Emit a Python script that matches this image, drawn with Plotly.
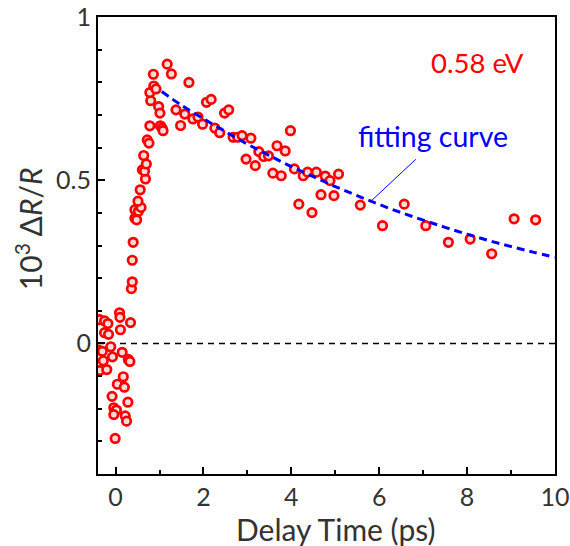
import plotly.graph_objects as go

# ---- data ----
delay_ps = [
    -0.36, -0.25, -0.175, 0.09, 0.10, 0.34, 0.11, -0.25, -0.16, -0.11,
    -0.39, -0.30, -0.07, 0.15, 0.29, 0.325, -0.28, -0.36, -0.20, 0.175,
    0.04, 0.20, -0.08, 0.28, -0.04, 0.02, -0.04, 0.22, 0.25, -0.01,
    0.36, 0.38, 0.38, 0.40, 0.44, 0.48, 0.44, 0.52, 0.58, 0.51,
    0.56, 0.68, 0.61, 0.66, 0.64, 0.70, 0.72, 0.76, 0.78, 0.80,
    0.78, 0.87, 0.92, 0.86, 0.98, 1.01, 1.02, 1.06, 1.08, 1.175,
    1.27, 1.375, 1.48, 1.575, 1.67, 1.76, 1.875, 1.98, 2.07, 2.175,
    2.26, 2.37, 2.48, 2.575, 2.675, 2.78, 2.88, 3.08, 2.97, 3.18,
    3.26, 3.37, 3.48, 3.58, 3.675, 3.77, 3.86, 3.98, 4.07, 4.17,
    4.27, 4.37, 4.47, 4.57, 4.675, 4.77, 4.88, 4.97, 5.075, 5.57,
    6.075, 6.57, 7.06, 7.575, 8.07, 8.56, 9.07, 9.56,
]
dr_over_r = [
    0.073, 0.069, 0.061, 0.094, 0.080, 0.064, 0.042, 0.033, 0.028, -0.010,
    -0.020, -0.024, -0.041, -0.027, -0.049, -0.055, -0.053, -0.083, -0.080, -0.102,
    -0.125, -0.134, -0.162, -0.180, -0.197, -0.204, -0.218, -0.222, -0.238, -0.291,
    0.168, 0.189, 0.255, 0.310, 0.384, 0.379, 0.410, 0.405, 0.417, 0.436,
    0.471, 0.504, 0.532, 0.528, 0.576, 0.550, 0.624, 0.614, 0.667, 0.744,
    0.769, 0.789, 0.780, 0.825, 0.726, 0.706, 0.667, 0.660, 0.652, 0.856,
    0.826, 0.716, 0.668, 0.703, 0.800, 0.688, 0.694, 0.672, 0.739, 0.748,
    0.660, 0.646, 0.706, 0.716, 0.632, 0.632, 0.637, 0.629, 0.565, 0.545,
    0.588, 0.573, 0.575, 0.522, 0.606, 0.514, 0.590, 0.652, 0.535, 0.427,
    0.514, 0.525, 0.401, 0.525, 0.456, 0.513, 0.499, 0.453, 0.519, 0.424,
    0.361, 0.427, 0.361, 0.310, 0.320, 0.275, 0.382, 0.379,
]

fit_x = [1.05, 1.5, 2, 2.5, 3, 3.5, 4, 4.5, 5, 5.5, 6, 6.5, 7, 7.5, 8, 8.5, 9, 9.5, 10]
fit_y = [0.772, 0.730, 0.689, 0.649, 0.611, 0.576, 0.542, 0.511, 0.481, 0.453,
         0.426, 0.401, 0.378, 0.356, 0.335, 0.315, 0.297, 0.280, 0.264]

x_ticks = [0, 2, 4, 6, 8, 10]
y_ticks = [0, 0.5, 1]
y_tick_text = ["0", "0.5", "1"]

FONT = "Lato"
TXT = "#333333"

fig = go.Figure()

fig.add_trace(go.Scatter(
    x=delay_ps, y=dr_over_r, mode="markers",
    marker=dict(symbol="circle", size=8.5, color="#fbdada",
                line=dict(color="#ff0000", width=2.7)),
    showlegend=False, hoverinfo="skip",
))

fig.add_trace(go.Scatter(
    x=fit_x, y=fit_y, mode="lines",
    line=dict(color="#0000ff", width=3, dash="8px,5px", shape="spline"),
    showlegend=False, hoverinfo="skip",
))

fig.add_hline(y=0, line=dict(color="black", width=1.5, dash="6px,5px"), layer="below")

# text labels
fig.add_annotation(text="0.58 eV", x=0.831, y=0.9015, xref="paper", yref="paper",
                   xanchor="center", yanchor="middle",
                   showarrow=False, font=dict(family=FONT, size=27.5, color="#ff0000"))
fig.add_annotation(text="fitting curve", x=0.733, y=0.74, xref="paper", yref="paper",
                   xanchor="center", yanchor="middle",
                   showarrow=False, font=dict(family=FONT, size=28.5, color="#0000ff"))
fig.add_annotation(text="", x=5.82, y=0.437, xref="x", yref="y",
                   ax=46, ay=-43, showarrow=True, arrowhead=0, arrowwidth=1,
                   arrowcolor="#0000ff")

# axis titles
fig.add_annotation(text="Delay Time (ps)", x=0.521, y=-0.12, xref="paper", yref="paper",
                   xanchor="center", yanchor="middle",
                   showarrow=False, font=dict(family=FONT, size=30, color=TXT))
fig.add_annotation(text="10<sup>3</sup> Δ<i>R</i>/<i>R</i>", x=-0.151, y=0.538,
                   xref="paper", yref="paper", textangle=-90,
                   xanchor="center", yanchor="middle",
                   showarrow=False, font=dict(family=FONT, size=30, color=TXT))

fig.update_xaxes(
    range=[-0.4, 10.001], tickvals=x_ticks, ticks="inside", ticklen=7, tickwidth=1.5,
    tickcolor="black", showline=True, linecolor="black", linewidth=2, mirror=True,
    showgrid=False, zeroline=False, automargin=False,
    minor=dict(dtick=1, tick0=0, ticks="inside", ticklen=4, tickwidth=1.5, tickcolor="black"),
    tickfont=dict(family=FONT, size=25, color=TXT),
)
fig.update_yaxes(
    range=[-0.4, 1.0005], tickvals=y_ticks, ticktext=y_tick_text,
    ticks="inside", ticklen=7, tickwidth=1.5,
    tickcolor="black", showline=True, linecolor="black", linewidth=2, mirror=True,
    showgrid=False, zeroline=False, automargin=False,
    minor=dict(dtick=0.1, tick0=0, ticks="inside", ticklen=4, tickwidth=1.5, tickcolor="black"),
    tickfont=dict(family=FONT, size=25, color=TXT),
)

fig.update_layout(
    width=570, height=546,
    margin=dict(l=98, r=15, t=17, b=72, autoexpand=False),
    paper_bgcolor="white", plot_bgcolor="white",
)

fig.write_html("out.html", config={"displayModeBar": False},
               post_script="document.body.style.margin='0';")
